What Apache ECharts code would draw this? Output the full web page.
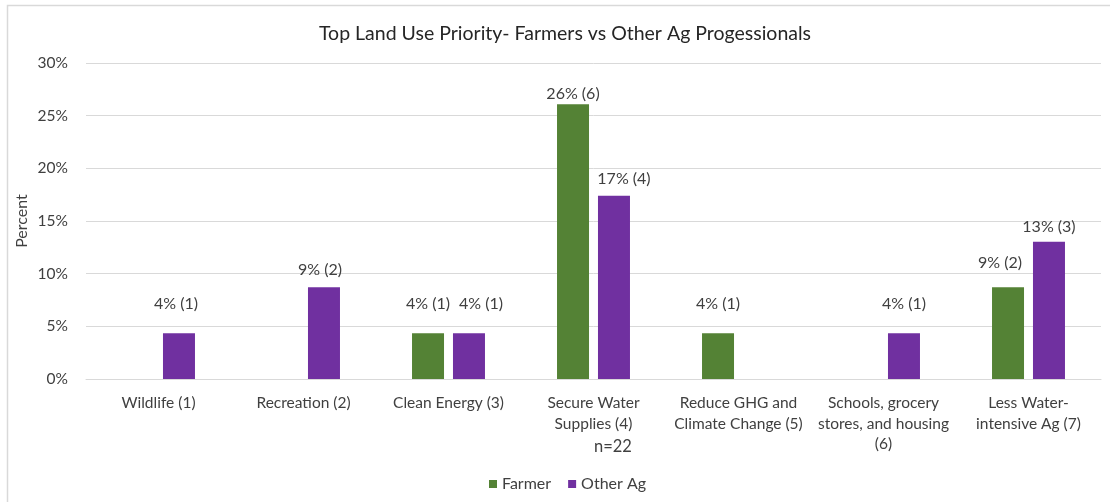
<!DOCTYPE html>
<html>
<head>
<meta charset="utf-8">
<title>Top Land Use Priority</title>
<script src="https://cdn.jsdelivr.net/npm/echarts@6/dist/echarts.min.js"></script>
<style>
  html, body { margin: 0; padding: 0; background: #ffffff; }
  #chart { width: 1110px; height: 502px; }
</style>
</head>
<body>
<div id="chart"></div>
<script>
// Priority categories (tick labels, wrapped as printed under the axis)
const categories = [
  'Wildlife (1)',
  'Recreation (2)',
  'Clean Energy (3)',
  'Secure Water\nSupplies (4)',
  'Reduce GHG and\nClimate Change (5)',
  'Schools, grocery\nstores, and housing\n(6)',
  'Less Water-\nintensive Ag (7)'
];

// Percent of respondents choosing each priority (null = nobody)
const farmerPct  = [null, null, 4.35, 26.09, 4.35, null, 8.7];
const otherAgPct = [4.35, 8.7, 4.35, 17.39, null, 4.35, 13.04];

// Respondent counts shown in brackets
const farmerCount  = [0, 0, 1, 6, 1, 0, 2];
const otherAgCount = [1, 2, 1, 4, 0, 1, 3];

const yTicks = { min: 0, max: 30, interval: 5 };

// Label placement: gap above each bar top and sideways nudge
const farmerLift   = [0, 0, 21, 2, 21, 0, 17];
const otherAgLift  = [21, 10, 21, 9, 0, 21, 7];
const farmerNudge  = [0, 0, 0, 0, 0, 0, -8];
const otherAgNudge = [-3, -4, 12, 10, 0, 0, 0];

const FONT = 'Lato, "Open Sans", sans-serif';
const GREEN = '#548235';
const PURPLE = '#7030A0';
const TEXT = '#404040';

function buildData(pct, count, lift, nudge) {
  return pct.map((v, i) => ({
    value: v,
    count: count[i],
    label: { distance: lift[i], offset: [nudge[i], 0] }
  }));
}

function labelText(p) {
  if (p.value == null) return '';
  return Math.round(p.value) + '% (' + p.data.count + ')';
}

const chart = echarts.init(document.getElementById('chart'), null, { renderer: 'canvas' });

const barLabel = {
  show: true,
  position: 'top',
  color: TEXT,
  fontFamily: FONT,
  fontSize: 16,
  formatter: labelText
};

chart.setOption({
  animation: false,
  backgroundColor: '#ffffff',
  title: {
    text: 'Top Land Use Priority- Farmers vs Other Ag Progessionals',
    left: 560,
    textAlign: 'center',
    top: 19,
    textStyle: { fontFamily: FONT, fontSize: 19.5, fontWeight: 'normal', color: '#262626' }
  },
  graphic: [
    {
      type: 'rect',
      shape: { x: 7.5, y: 5.5, width: 1120, height: 520 },
      style: { fill: 'none', stroke: '#d9d9d9', lineWidth: 1.5 },
      silent: true
    },
    {
      type: 'text',
      left: 594,
      top: 438,
      style: {
        text: 'n=22',
        fontFamily: FONT,
        fontSize: 16.5,
        fill: TEXT,
        textAlign: 'center'
      }
    }
  ],
  legend: {
    left: 484,
    top: 471,
    icon: 'rect',
    itemWidth: 8,
    itemHeight: 8,
    itemGap: 17,
    textStyle: { fontFamily: FONT, fontSize: 16, color: TEXT },
    data: ['Farmer', 'Other Ag']
  },
  grid: { left: 86, right: 9, top: 63, bottom: 123, containLabel: false },
  xAxis: {
    type: 'category',
    data: categories,
    axisTick: { show: false },
    axisLine: { show: true, lineStyle: { color: '#d9d9d9', width: 1 } },
    axisLabel: {
      interval: 0,
      margin: 14,
      fontFamily: FONT,
      fontSize: 15.5,
      lineHeight: 20.5,
      color: TEXT
    }
  },
  yAxis: {
    type: 'value',
    min: yTicks.min,
    max: yTicks.max,
    interval: yTicks.interval,
    name: 'Percent',
    nameLocation: 'middle',
    nameGap: 56,
    nameMoveOverlap: false,
    nameTextStyle: { fontFamily: FONT, fontSize: 16, color: TEXT },
    axisLine: { show: false },
    axisTick: { show: false },
    axisLabel: {
      formatter: '{value}%',
      margin: 18,
      fontFamily: FONT,
      fontSize: 15.5,
      color: TEXT
    },
    splitLine: { lineStyle: { color: '#d9d9d9', width: 1 } }
  },
  series: [
    {
      name: 'Farmer',
      type: 'bar',
      barWidth: 32,
      barGap: '28%',
      itemStyle: { color: GREEN },
      label: barLabel,
      data: buildData(farmerPct, farmerCount, farmerLift, farmerNudge)
    },
    {
      name: 'Other Ag',
      type: 'bar',
      barWidth: 32,
      itemStyle: { color: PURPLE },
      label: barLabel,
      data: buildData(otherAgPct, otherAgCount, otherAgLift, otherAgNudge)
    }
  ]
});
</script>
</body>
</html>
